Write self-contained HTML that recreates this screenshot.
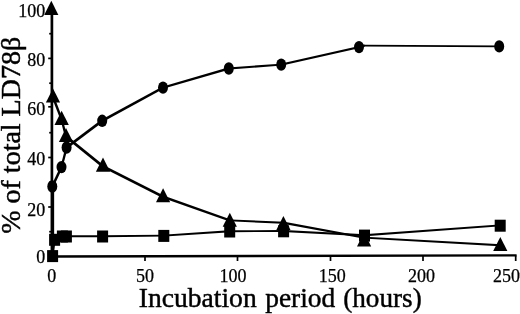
<!DOCTYPE html>
<html><head><meta charset="utf-8"><title>LD78β incubation</title>
<style>
html,body{margin:0;padding:0;background:#fff;}
svg{display:block}
text{font-family:"Liberation Serif",serif;fill:#000}
.t{font-size:18px;stroke:#000;stroke-width:0.25px}
.l{font-size:28.3px;stroke:#000;stroke-width:0.45px}
</style></head><body>
<svg width="520" height="314" viewBox="0 0 520 314">
<rect width="520" height="314" fill="#fff"/>

<g stroke="#000" stroke-width="2.7" fill="none">
<line x1="51.9" y1="10" x2="51.9" y2="257.6"/>
<line x1="52.8" y1="187" x2="52.8" y2="240"/>
<line x1="52" y1="256.5" x2="516.6" y2="255.4" stroke-width="2.4"/>
</g>
<g stroke="#000" stroke-width="1.7" fill="none">
<line x1="49.2" y1="231.7" x2="52" y2="231.7"/>
<line x1="48.2" y1="207.0" x2="52" y2="207.0"/>
<line x1="49.2" y1="182.2" x2="52" y2="182.2"/>
<line x1="48.2" y1="157.5" x2="52" y2="157.5"/>
<line x1="49.2" y1="132.7" x2="52" y2="132.7"/>
<line x1="48.2" y1="106.8" x2="52" y2="106.8"/>
<line x1="49.2" y1="83.2" x2="52" y2="83.2"/>
<line x1="48.2" y1="58.4" x2="52" y2="58.4"/>
<line x1="49.2" y1="33.7" x2="52" y2="33.7"/>
<line x1="145" y1="255.5" x2="145" y2="261"/>
<line x1="237.5" y1="255.5" x2="237.5" y2="261"/>
<line x1="330.5" y1="255.5" x2="330.5" y2="261"/>
<line x1="423" y1="255.5" x2="423" y2="261"/>
<line x1="515.7" y1="255.5" x2="515.7" y2="261"/>
</g>
<g fill="#000" stroke="none">
<polygon points="51.35,185.55 60.55,166.15 62.45,166.15 62.45,168.05 53.25,187.45 51.35,187.45"/>
<polygon points="60.55,166.15 65.65,146.55 67.55,146.55 67.55,148.45 62.45,168.05 60.55,168.05"/>
<polygon points="65.65,146.55 101.25,119.85 103.15,119.85 103.15,121.75 67.55,148.45 65.65,148.45"/>
<polygon points="101.25,119.85 162.05,86.65 163.95,86.65 163.95,88.55 103.15,121.75 101.25,121.75"/>
<polygon points="162.05,86.65 227.85,67.55 229.75,67.55 229.75,69.45 163.95,88.55 162.05,88.55"/>
<polygon points="227.85,67.55 280.25,63.65 282.15,63.65 282.15,65.55 229.75,69.45 227.85,69.45"/>
<polygon points="280.25,63.65 358.05,46.15 359.95,46.15 359.95,48.05 282.15,65.55 280.25,65.55"/>
<polygon points="358.05,46.15 363.05,44.65 364.95,44.65 364.95,46.55 359.95,48.05 358.05,48.05"/>
<polygon points="363.05,44.65 364.95,44.65 500.15,45.45 500.15,47.35 498.25,47.35 363.05,46.55"/>
<polygon points="52.05,96.05 53.95,96.05 62.60,118.45 62.60,120.35 60.70,120.35 52.05,97.95"/>
<polygon points="60.70,118.45 62.60,118.45 66.95,135.55 66.95,137.45 65.05,137.45 60.70,120.35"/>
<polygon points="65.05,135.55 66.95,135.55 103.75,165.25 103.75,167.15 101.85,167.15 65.05,137.45"/>
<polygon points="101.85,165.25 103.75,165.25 164.05,195.85 164.05,197.75 162.15,197.75 101.85,167.15"/>
<polygon points="162.15,195.85 164.05,195.85 230.75,219.45 230.75,221.35 228.85,221.35 162.15,197.75"/>
<polygon points="228.85,219.45 230.75,219.45 284.35,221.85 284.35,223.75 282.45,223.75 228.85,221.35"/>
<polygon points="282.45,221.85 284.35,221.85 365.05,236.65 365.05,238.55 363.15,238.55 282.45,223.75"/>
<polygon points="363.15,236.65 365.05,236.65 501.15,244.25 501.15,246.15 499.25,246.15 363.15,238.55"/>
<polygon points="51.65,254.85 53.65,238.55 55.55,238.55 55.55,240.45 53.55,256.75 51.65,256.75"/>
<polygon points="53.65,238.55 61.45,235.25 63.35,235.25 63.35,237.15 55.55,240.45 53.65,240.45"/>
<polygon points="61.45,235.25 67.35,235.25 67.35,237.15 61.45,237.15"/>
<polygon points="65.45,235.25 103.55,235.25 103.55,237.15 65.45,237.15"/>
<polygon points="101.65,235.25 162.85,234.65 164.75,234.65 164.75,236.55 103.55,237.15 101.65,237.15"/>
<polygon points="162.85,234.65 228.75,230.25 230.65,230.25 230.65,232.15 164.75,236.55 162.85,236.55"/>
<polygon points="228.75,230.25 282.65,230.05 284.55,230.05 284.55,231.95 230.65,232.15 228.75,232.15"/>
<polygon points="282.65,230.05 284.55,230.05 365.45,234.35 365.45,236.25 363.55,236.25 282.65,231.95"/>
<polygon points="363.55,234.35 499.25,224.45 501.15,224.45 501.15,226.35 365.45,236.25 363.55,236.25"/>
</g>
<g fill="#000">
<ellipse cx="52.3" cy="186.5" rx="5" ry="6.2"/>
<ellipse cx="61.5" cy="167.1" rx="5" ry="6.2"/>
<ellipse cx="66.6" cy="147.5" rx="5" ry="6.2"/>
<ellipse cx="102.2" cy="120.8" rx="5" ry="6.2"/>
<ellipse cx="163" cy="87.6" rx="5" ry="6.2"/>
<ellipse cx="228.8" cy="68.5" rx="5" ry="6.2"/>
<ellipse cx="281.2" cy="64.6" rx="5" ry="6.2"/>
<ellipse cx="359" cy="47.1" rx="5" ry="6.2"/>
<ellipse cx="499.2" cy="46.4" rx="5" ry="6.2"/>
<polygon points="51.3,0.8 44.2,14.9 58.4,14.9"/>
<polygon points="53,88.4 45.9,102.5 60.1,102.5"/>
<polygon points="61.65,110.8 54.5,124.9 68.8,124.9"/>
<polygon points="66,127.9 58.9,142.0 73.1,142.0"/>
<polygon points="103,157.6 95.9,171.7 110.1,171.7"/>
<polygon points="163.1,188.2 156.0,202.3 170.2,202.3"/>
<polygon points="229.8,212.7 222.7,226.8 236.9,226.8"/>
<polygon points="283.4,216.0 276.3,230.1 290.5,230.1"/>
<polygon points="364.1,232.4 357.0,246.5 371.2,246.5"/>
<polygon points="500.3,237.0 493.2,251.1 507.4,251.1"/>
<rect x="47.1" y="250.1" width="11" height="12"/>
<rect x="49.1" y="233.8" width="11" height="12"/>
<rect x="56.9" y="230.5" width="11" height="12"/>
<rect x="60.9" y="230.5" width="11" height="12"/>
<rect x="97.1" y="230.5" width="11" height="12"/>
<rect x="158.3" y="229.9" width="11" height="12"/>
<rect x="224.2" y="225.5" width="11" height="12"/>
<rect x="278.1" y="225.3" width="11" height="12"/>
<rect x="359.0" y="229.6" width="11" height="12"/>
<rect x="494.7" y="219.7" width="11" height="12"/>
</g>
<text class="t" x="45.2" y="16.9" text-anchor="end">100</text>
<text class="t" x="45.2" y="66.4" text-anchor="end">80</text>
<text class="t" x="45.2" y="115.4" text-anchor="end">60</text>
<text class="t" x="45.2" y="165.0" text-anchor="end">40</text>
<text class="t" x="45.2" y="215.5" text-anchor="end">20</text>
<text class="t" x="45.2" y="263.2" text-anchor="end">0</text>
<text class="t" x="51.7" y="281.8" text-anchor="middle">0</text>
<text class="t" x="145" y="281.8" text-anchor="middle">50</text>
<text class="t" x="233" y="281.8" text-anchor="middle">100</text>
<text class="t" x="332.3" y="281.8" text-anchor="middle">150</text>
<text class="t" x="421.5" y="281.8" text-anchor="middle">200</text>
<text class="t" x="506.4" y="281.8" text-anchor="middle">250</text>
<text class="l" x="138.7" y="306.6" textLength="118" lengthAdjust="spacingAndGlyphs">Incubation</text>
<text class="l" x="265.2" y="306.6" textLength="70" lengthAdjust="spacingAndGlyphs">period</text>
<text class="l" x="343.2" y="306.6" textLength="78.5" lengthAdjust="spacingAndGlyphs">(hours)</text>
<text class="l" style="font-size:28px" transform="translate(20.3,233.8) rotate(-90)">% of total LD78β</text>
</svg></body></html>
